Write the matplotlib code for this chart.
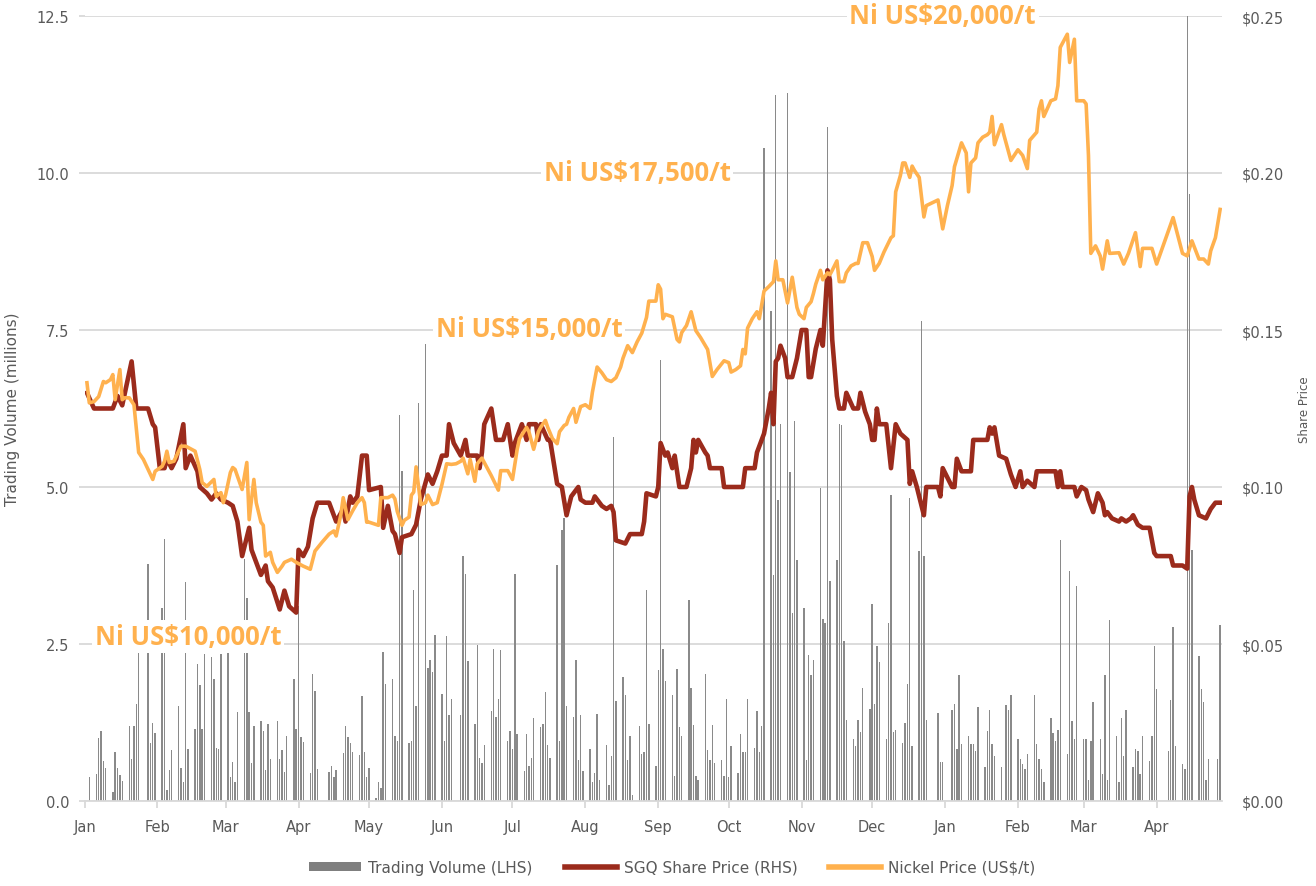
import pandas as pd
import matplotlib
matplotlib.use("Agg")
import matplotlib.pyplot as plt
import matplotlib.dates as mdates
from matplotlib.patches import Patch
from matplotlib.lines import Line2D

START = pd.Timestamp("2020-01-01")

# ASX trading days: weekdays minus exchange holidays
HOLIDAYS = ["2020-01-27", "2020-04-10", "2020-04-13", "2020-06-08", "2020-12-25",
            "2020-12-28", "2021-01-01", "2021-01-26", "2021-04-02", "2021-04-05",
            "2021-04-26"]

# daily trading volume, millions (one value per trading day)
VOLUME = [
    # Jan 2020
    0.0, 0.38, 0.43, 1.0, 1.12, 0.64, 0.53, 0.14, 0.78, 0.53, 0.41, 0.32, 1.2, 0.67,
    1.2, 1.54, 2.37, 3.77, 0.93, 1.25, 1.09,
    # Feb
    3.07, 4.17, 0.17, 0.49, 0.81, 1.52, 0.53, 0.3, 3.48, 0.83, 1.15, 2.18, 1.84, 1.15,
    2.34, 2.3, 1.94, 0.85, 0.83, 2.34,
    # Mar
    2.36, 0.38, 0.62, 0.3, 1.41, 3.85, 3.24, 1.41, 0.6, 1.2, 1.28, 1.12, 0.49, 1.22,
    0.67, 1.28, 0.67, 0.81, 0.46, 1.04, 1.94, 1.15,
    # Apr
    3.1, 1.02, 0.94, 0.44, 2.02, 1.75, 0.51, 0.46, 0.56, 0.38, 0.49, 0.76, 1.2, 1.02,
    0.93, 0.78, 0.73, 1.67, 0.78, 0.38,
    # May
    0.53, 0.05, 0.3, 0.2, 2.37, 1.86, 1.94, 1.03, 0.95, 6.14, 5.26, 0.92, 0.95, 3.36,
    1.51, 6.33, 7.28, 2.11, 2.25, 2.05, 2.65,
    # Jun
    1.71, 0.95, 2.62, 1.37, 1.63, 1.37, 3.9, 3.62, 2.23, 1.23, 2.48, 0.69, 0.6, 0.89,
    1.43, 2.42, 1.34, 1.63, 2.4, 0.95, 1.12,
    # Jul
    0.83, 3.62, 1.07, 0.47, 1.07, 0.56, 0.69, 1.32, 1.18, 1.23, 1.74, 0.89, 0.69, 3.76,
    0.95, 4.32, 4.5, 1.51, 1.34, 2.25, 0.66, 1.37, 0.47,
    # Aug
    0.83, 0.3, 0.45, 1.39, 0.33, 0.89, 0.25, 0.72, 5.8, 1.6, 1.97, 1.68, 0.66, 1.03,
    0.1, 1.2, 0.75, 0.78, 3.36, 1.23, 0.55,
    # Sep
    2.08, 7.03, 2.42, 1.91, 1.69, 0.4, 2.1, 1.18, 1.03, 3.2, 1.8, 1.21, 0.4, 0.33,
    2.03, 0.81, 0.66, 1.21, 0.6, 0.66, 0.4, 1.62,
    # Oct
    0.38, 0.88, 0.44, 1.07, 0.78, 0.78, 1.62, 0.84, 1.43, 0.78, 1.2, 10.4, 7.8, 3.6,
    11.25, 4.8, 6.0, 11.27, 5.24, 3.0, 6.05, 3.83,
    # Nov
    3.08, 0.66, 2.32, 2.0, 2.25, 4.98, 2.9, 2.84, 10.74, 3.5, 3.83, 6.01, 5.98, 2.54,
    1.29, 0.99, 0.88, 1.29, 1.1, 1.8, 1.47,
    # Dec
    3.13, 1.54, 2.47, 2.21, 0.99, 2.84, 4.87, 1.1, 1.13, 0.92, 1.25, 1.87, 4.83, 0.88,
    3.98, 7.64, 3.9, 1.29, 1.4, 0.62, 0.62,
    # Jan 2021
    1.45, 1.55, 0.83, 2.0, 0.91, 1.03, 0.91, 0.91, 0.79, 1.49, 0.54, 1.11, 1.45, 0.91,
    0.71, 0.54, 1.53, 1.45, 1.69,
    # Feb
    0.99, 0.67, 0.59, 0.51, 0.75, 1.69, 0.91, 0.67, 0.51, 0.3, 1.32, 1.08, 0.96, 1.13,
    4.16, 0.75, 3.66, 1.28, 0.99, 3.42,
    # Mar
    0.99, 0.99, 0.34, 0.96, 1.57, 0.99, 0.43, 2.0, 0.34, 2.88, 1.03, 0.3, 1.32, 0.71,
    1.45, 0.54, 0.83, 0.79, 0.43, 1.03, 0.63, 1.03, 2.47,
    # Apr
    1.78, 0.79, 1.61, 2.77, 0.87, 0.59, 0.51, 12.5, 9.67, 3.99, 2.31, 1.78, 1.57, 0.34,
    0.67, 0.67, 2.8,
]

# SGQ share price (A$), days counted from 1 Jan 2020
SGQ_DAYS = [1, 4, 12, 14, 16, 18, 20, 22, 27, 29, 30, 32, 34, 35, 37, 39, 42, 43, 45, 48,
            49, 52, 54, 56, 58, 61, 63, 65, 67, 70, 71, 73, 75, 77, 78, 80, 83, 85, 87, 90,
            91, 93, 95, 97, 99, 104, 107, 110, 111, 113, 114, 116, 118, 120, 121, 126, 127,
            129, 131, 132, 134, 135, 139, 141, 143, 146, 148, 150, 152, 154, 155, 157, 160,
            162, 163, 167, 168, 169, 170, 173, 175, 178, 180, 182, 183, 186, 188, 189, 192,
            193, 194, 197, 198, 201, 203, 205, 207, 209, 210, 211, 213, 216, 217, 218, 220,
            222, 224, 225, 226, 230, 232, 237, 238, 239, 243, 244, 245, 247, 248, 250, 251,
            253, 256, 258, 259, 260, 261, 264, 265, 266, 271, 272, 275, 277, 280, 281, 285,
            286, 289, 291, 292, 293, 294, 295, 296, 298, 299, 301, 303, 305, 307, 308, 309,
            311, 313, 314, 316, 317, 318, 320, 321, 323, 324, 327, 329, 330, 332, 334, 335,
            336, 337, 338, 341, 343, 345, 347, 350, 351, 352, 354, 357, 358, 363, 364, 365,
            369, 370, 371, 373, 377, 378, 384, 385, 386, 387, 389, 392, 394, 396, 398, 399,
            401, 404, 405, 413, 414, 415, 416, 419, 421, 422, 424, 426, 427, 429, 431, 433,
            434, 435, 437, 440, 441, 443, 445, 446, 448, 450, 453, 455, 456, 462, 463, 467,
            469, 470, 471, 472, 474, 477, 479, 481, 483]
SGQ_PRICE = [0.130, 0.125, 0.125, 0.129, 0.126, 0.133, 0.140, 0.125, 0.125, 0.120, 0.119,
             0.106, 0.106, 0.109, 0.106, 0.109, 0.120, 0.106, 0.110, 0.105, 0.100, 0.098,
             0.096, 0.098, 0.096, 0.095, 0.094, 0.089, 0.078, 0.087, 0.080, 0.076, 0.072,
             0.075, 0.070, 0.068, 0.061, 0.067, 0.062, 0.060, 0.080, 0.078, 0.081, 0.090,
             0.095, 0.095, 0.089, 0.093, 0.089, 0.097, 0.095, 0.097, 0.110, 0.110, 0.099,
             0.100, 0.087, 0.094, 0.086, 0.085, 0.079, 0.084, 0.085, 0.088, 0.096, 0.104,
             0.101, 0.105, 0.110, 0.110, 0.120, 0.114, 0.110, 0.115, 0.110, 0.110, 0.106,
             0.111, 0.120, 0.125, 0.115, 0.115, 0.120, 0.110, 0.114, 0.120, 0.115, 0.120,
             0.120, 0.115, 0.120, 0.115, 0.115, 0.101, 0.100, 0.091, 0.097, 0.099, 0.100,
             0.096, 0.095, 0.095, 0.097, 0.096, 0.094, 0.093, 0.094, 0.092, 0.083, 0.082,
             0.085, 0.085, 0.089, 0.098, 0.097, 0.100, 0.114, 0.110, 0.111, 0.106, 0.110,
             0.100, 0.100, 0.106, 0.115, 0.111, 0.115, 0.111, 0.110, 0.106, 0.106, 0.100,
             0.100, 0.100, 0.100, 0.106, 0.106, 0.111, 0.117, 0.125, 0.130, 0.120, 0.140,
             0.141, 0.145, 0.141, 0.135, 0.135, 0.141, 0.150, 0.150, 0.135, 0.135, 0.144,
             0.150, 0.145, 0.169, 0.166, 0.147, 0.129, 0.125, 0.125, 0.130, 0.125, 0.125,
             0.130, 0.124, 0.120, 0.115, 0.115, 0.125, 0.120, 0.120, 0.106, 0.120, 0.117,
             0.115, 0.101, 0.105, 0.100, 0.091, 0.100, 0.100, 0.097, 0.106, 0.100, 0.100,
             0.109, 0.105, 0.105, 0.115, 0.115, 0.119, 0.117, 0.119, 0.110, 0.109, 0.104,
             0.100, 0.105, 0.100, 0.102, 0.100, 0.105, 0.105, 0.100, 0.105, 0.100, 0.100,
             0.100, 0.097, 0.100, 0.099, 0.096, 0.092, 0.098, 0.095, 0.091, 0.092, 0.090,
             0.089, 0.090, 0.089, 0.090, 0.091, 0.088, 0.087, 0.087, 0.079, 0.078, 0.078,
             0.075, 0.075, 0.074, 0.097, 0.100, 0.096, 0.091, 0.090, 0.093, 0.095, 0.095]

# LME nickel (US$/t), days counted from 1 Jan 2020
NI_DAYS = [1, 2, 4, 6, 8, 9, 11, 12, 13, 15, 16, 17, 19, 21, 23, 25, 27, 29, 30, 33, 34, 35,
           36, 38, 41, 43, 47, 49, 50, 52, 55, 56, 58, 59, 60, 62, 63, 64, 67, 69, 70, 72,
           73, 75, 76, 77, 79, 80, 82, 84, 85, 88, 90, 93, 96, 98, 101, 104, 106, 107, 109,
           110, 112, 114, 116, 118, 119, 120, 121, 125, 126, 129, 131, 132, 133, 135, 136,
           138, 139, 140, 141, 143, 145, 146, 148, 150, 152, 154, 156, 158, 160, 161, 163,
           164, 166, 167, 169, 171, 173, 176, 177, 180, 182, 184, 185, 188, 189, 191, 193,
           194, 196, 197, 199, 201, 202, 204, 205, 206, 208, 209, 211, 213, 215, 216, 218,
           220, 222, 224, 226, 228, 229, 231, 233, 235, 237, 239, 240, 243, 244, 245, 246,
           247, 250, 252, 253, 254, 256, 258, 260, 262, 265, 267, 269, 272, 274, 275, 277,
           279, 280, 281, 282, 284, 286, 287, 289, 291, 293, 294, 295, 297, 299, 301, 303,
           304, 306, 307, 309, 310, 311, 313, 314, 316, 317, 318, 320, 321, 323, 324, 326,
           328, 329, 331, 333, 335, 336, 338, 340, 343, 344, 345, 347, 348, 349, 351, 352,
           353, 355, 357, 358, 363, 365, 367, 369, 370, 373, 375, 376, 377, 379, 380, 382,
           384, 385, 386, 387, 390, 391, 394, 397, 399, 401, 402, 405, 406, 407, 408, 411,
           413, 414, 415, 418, 419, 421, 422, 425, 426, 427, 428, 430, 432, 433, 435, 436,
           440, 442, 444, 447, 449, 450, 454, 456, 460, 463, 467, 469, 471, 474, 476, 478,
           479, 481, 483]
NI_PRICE = [14160, 13840, 13860, 13940, 14180, 14160, 14210, 14290, 13890, 14370, 13890,
            13920, 13920, 13810, 13050, 12940, 12780, 12620, 12750, 12830, 12910, 13070,
            12890, 12910, 13150, 13150, 13070, 12780, 12570, 12510, 12620, 12350, 12410,
            12250, 12380, 12730, 12810, 12780, 12460, 12890, 11980, 12620, 12250, 11940,
            11890, 11400, 11460, 11300, 11140, 11240, 11300, 11350, 11300, 11240, 11190,
            11480, 11620, 11750, 11800, 11720, 12060, 12330, 11980, 12120, 12250, 12330,
            12250, 11940, 11940, 11890, 12330, 12330, 12370, 12310, 12110, 11890, 11970,
            12020, 12370, 12420, 12820, 12220, 12250, 12370, 12220, 12250, 12540, 12870,
            12860, 12870, 12910, 12960, 12710, 12940, 12590, 12870, 12960, 12820, 12680,
            12450, 12760, 12760, 12620, 13100, 13270, 13450, 13380, 13100, 13380, 13450,
            13560, 13450, 13270, 13190, 13380, 13480, 13500, 13610, 13750, 13530, 13780,
            13810, 13750, 14010, 14410, 14320, 14210, 14180, 14240, 14410, 14550, 14750,
            14640, 14810, 14950, 15200, 15460, 15460, 15720, 15650, 15180, 15250, 15210,
            14850, 14810, 14960, 15070, 15290, 14990, 14880, 14690, 14260, 14370, 14510,
            14480, 14330, 14370, 14430, 14690, 14620, 15030, 15180, 15290, 15180, 15620,
            15690, 15770, 16100, 15800, 15800, 15430, 15840, 15360, 15250, 15180, 15360,
            15450, 15580, 15730, 15950, 15800, 15910, 15880, 15950, 16100, 15770, 15770,
            15910, 16020, 16060, 16060, 16390, 16390, 16170, 15950, 16060, 16240, 16470,
            16500, 17200, 17460, 17660, 17660, 17430, 17610, 17540, 17430, 16800, 16980,
            17070, 16610, 16980, 17300, 17600, 17980, 17820, 17200, 17660, 17740, 17980,
            18070, 18110, 18150, 18400, 17950, 18270, 18110, 17700, 17870, 17780, 17570,
            18020, 18150, 18520, 18650, 18400, 18650, 18680, 18890, 19500, 19710, 19260,
            19630, 18650, 18650, 18600, 17780, 16220, 16340, 16180, 15970, 16420, 16220,
            16230, 16050, 16220, 16550, 16010, 16300, 16300, 16050, 16470, 16790, 16220,
            16180, 16420, 16130, 16130, 16050, 16260, 16470, 16920]

NI_LEVELS = [20000, 17500, 15000, 10000]
NI_LEVEL_TEXT = ["Ni US$20,000/t", "Ni US$17,500/t", "Ni US$15,000/t", "Ni US$10,000/t"]

VOL_TICKS = [0, 2.5, 5.0, 7.5, 10.0, 12.5]
PRICE_TICKS = [0, 0.05, 0.10, 0.15, 0.20, 0.25]

RED = "#9B2B1C"
ORANGE = "#FFB14E"
GREY_BAR = "#8a8a8a"
GRID = "#d9d9d9"
TXT = "#595959"

plt.rcParams["font.family"] = ["DejaVu Sans"]

trade_days = pd.bdate_range("2020-01-02", "2021-04-28")
trade_days = trade_days[~trade_days.isin(pd.to_datetime(HOLIDAYS))]
assert len(trade_days) == len(VOLUME), (len(trade_days), len(VOLUME))
sgq_dates = START + pd.to_timedelta(SGQ_DAYS, unit="D")
ni_dates = START + pd.to_timedelta(NI_DAYS, unit="D")

fig = plt.figure(figsize=(13.16, 8.87), dpi=100)
ax = fig.add_axes([84.6 / 1316, 1 - 802 / 887, (1222 - 84.6) / 1316, 785 / 887])
ax2 = ax.twinx()
ax3 = ax.twinx()

# volume bars
ax.bar(trade_days, VOLUME, width=0.6, color=GREY_BAR, linewidth=0, zorder=2)
ax.set_ylim(0, 12.5)
ax.set_yticks(VOL_TICKS)
ax.set_yticklabels([f"{v:.1f}" for v in VOL_TICKS])
ax.set_xlim(START, START + pd.Timedelta(days=483.8))
ax.set_axisbelow(True)
ax.yaxis.grid(True, color=GRID, lw=1.3)
for s in ("top", "left", "right"):
    ax.spines[s].set_visible(False)
ax.spines["bottom"].set_color(GRID)
ax.spines["bottom"].set_linewidth(1.3)
ax.tick_params(axis="y", colors=GRID, labelcolor=TXT, labelsize=10.5, length=4, width=1.3, pad=7)
ax.tick_params(axis="x", colors=GRID, labelcolor=TXT, labelsize=10.5, length=5, width=1.3, pad=8)
ax.xaxis.set_major_locator(mdates.MonthLocator())
ax.xaxis.set_major_formatter(mdates.DateFormatter("%b"))
ax.set_ylabel("Trading Volume (millions)", color=TXT, fontsize=11, labelpad=12)

# share price (RHS)
ax2.plot(sgq_dates, SGQ_PRICE, color=RED, lw=3.3, solid_joinstyle="round", zorder=3)
ax2.set_ylim(0, 0.25)
ax2.set_yticks(PRICE_TICKS)
ax2.set_yticklabels([f"${v:.2f}" for v in PRICE_TICKS])
ax2.tick_params(axis="y", length=0, labelcolor=TXT, labelsize=10.5, pad=14)
for s in ax2.spines.values():
    s.set_visible(False)
ax2.set_ylabel("Share Price", color=TXT, fontsize=8.5, labelpad=10)

# nickel price on a hidden scale; reference levels written over the gridlines
ax3.plot(ni_dates, NI_PRICE, color=ORANGE, lw=2.6, solid_joinstyle="round", zorder=3)
ax3.set_ylim(7500, 20000)
ax3.axis("off")
label_days = [365, 235, 189, 44]
label_nudge = [0, 0, 30, 120]
for lvl, txt, dd, dy in zip(NI_LEVELS, NI_LEVEL_TEXT, label_days, label_nudge):
    ax3.text(START + pd.Timedelta(days=dd), lvl + dy, txt, ha="center", va="center",
             color=ORANGE, fontsize=18.5, fontweight="bold", family=["Open Sans", "DejaVu Sans"],
             bbox=dict(facecolor="white", edgecolor="none", pad=2), zorder=5)

handles = [Patch(facecolor="#7f7f7f", edgecolor="none"),
           Line2D([], [], color=RED, lw=4),
           Line2D([], [], color=ORANGE, lw=4)]
fig.legend(handles, ["Trading Volume (LHS)", "SGQ Share Price (RHS)", "Nickel Price (US$/t)"],
           loc="center", bbox_to_anchor=(0.511, 0.021), ncol=3, frameon=False,
           prop={"size": 11}, labelcolor=TXT, handlelength=3.4, handleheight=0.55,
           handletextpad=0.45, columnspacing=2.1)

fig.savefig("out.png", dpi=100)
